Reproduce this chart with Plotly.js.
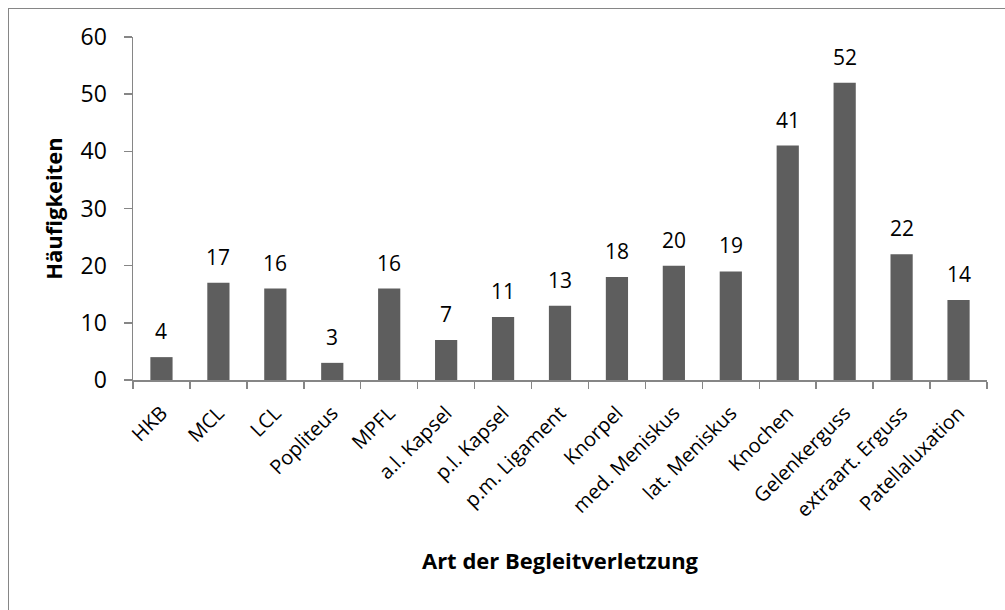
<!DOCTYPE html>
<html><head><meta charset="utf-8">
<script src="https://cdn.plot.ly/plotly-3.0.1.min.js"></script>
<style>
html,body{margin:0;padding:0;background:#fff;}
#wrap{position:relative;width:1005px;height:610px;overflow:hidden;}
#chart{width:1005px;height:610px;}
#frame{position:absolute;left:8px;top:8px;width:1100px;height:700px;border-left:1.5px solid #868686;border-top:1.5px solid #868686;pointer-events:none;}
</style></head>
<body>
<div id="wrap"><div id="chart"></div><div id="frame"></div></div>
<script>
const categories = ["HKB","MCL","LCL","Popliteus","MPFL","a.l. Kapsel","p.l. Kapsel","p.m. Ligament","Knorpel","med. Meniskus","lat. Meniskus","Knochen","Gelenkerguss","extraart. Erguss","Patellaluxation"];
const counts = [4,17,16,3,16,7,11,13,18,20,19,41,52,22,14];
const yTitle = "Häufigkeiten";
const xTitle = "Art der Begleitverletzung";

const font = "Open Sans, Liberation Sans, sans-serif";
const labels = categories.map((c, i) => ({
  x: c, y: counts[i], xref: "x", yref: "y",
  text: String(counts[i]), showarrow: false,
  yanchor: "bottom", yshift: 10,
  font: {family: font, size: 21, color: "#000"}
}));
Plotly.newPlot("chart", [{
  type: "bar",
  x: categories,
  y: counts,
  marker: {color: "#5e5e5e"},
  hoverinfo: "x+y"
}], {
  width: 1005, height: 610,
  margin: {l: 133, r: 18, t: 37, b: 230},
  paper_bgcolor: "#fff", plot_bgcolor: "#fff",
  bargap: 0.61,
  font: {family: font, size: 21, color: "#000"},
  showlegend: false,
  annotations: labels,
  xaxis: {
    type: "category",
    tickangle: -45,
    tickson: "boundaries",
    ticks: "outside", ticklen: 7, tickcolor: "#868686", tickwidth: 1.5,
    ticklabelstandoff: 12,
    showline: true, linecolor: "#868686", linewidth: 1.5,
    showgrid: false, zeroline: false,
    tickfont: {family: font, size: 20, color: "#000"},
    title: {text: "<b>" + xTitle + "</b>", font: {family: font, size: 22, color: "#000"}, standoff: 32}
  },
  yaxis: {
    range: [0, 60],
    dtick: 10,
    ticks: "outside", ticklen: 8, tickcolor: "#868686", tickwidth: 1.5,
    ticklabelstandoff: 12,
    showline: true, linecolor: "#868686", linewidth: 1.5,
    showgrid: false, zeroline: false,
    tickfont: {family: font, size: 23, color: "#000"},
    title: {text: "<b>" + yTitle + "</b>", font: {family: font, size: 22, color: "#000"}, standoff: 12}
  }
}, {displayModeBar: false, staticPlot: true});
</script>
</body></html>
